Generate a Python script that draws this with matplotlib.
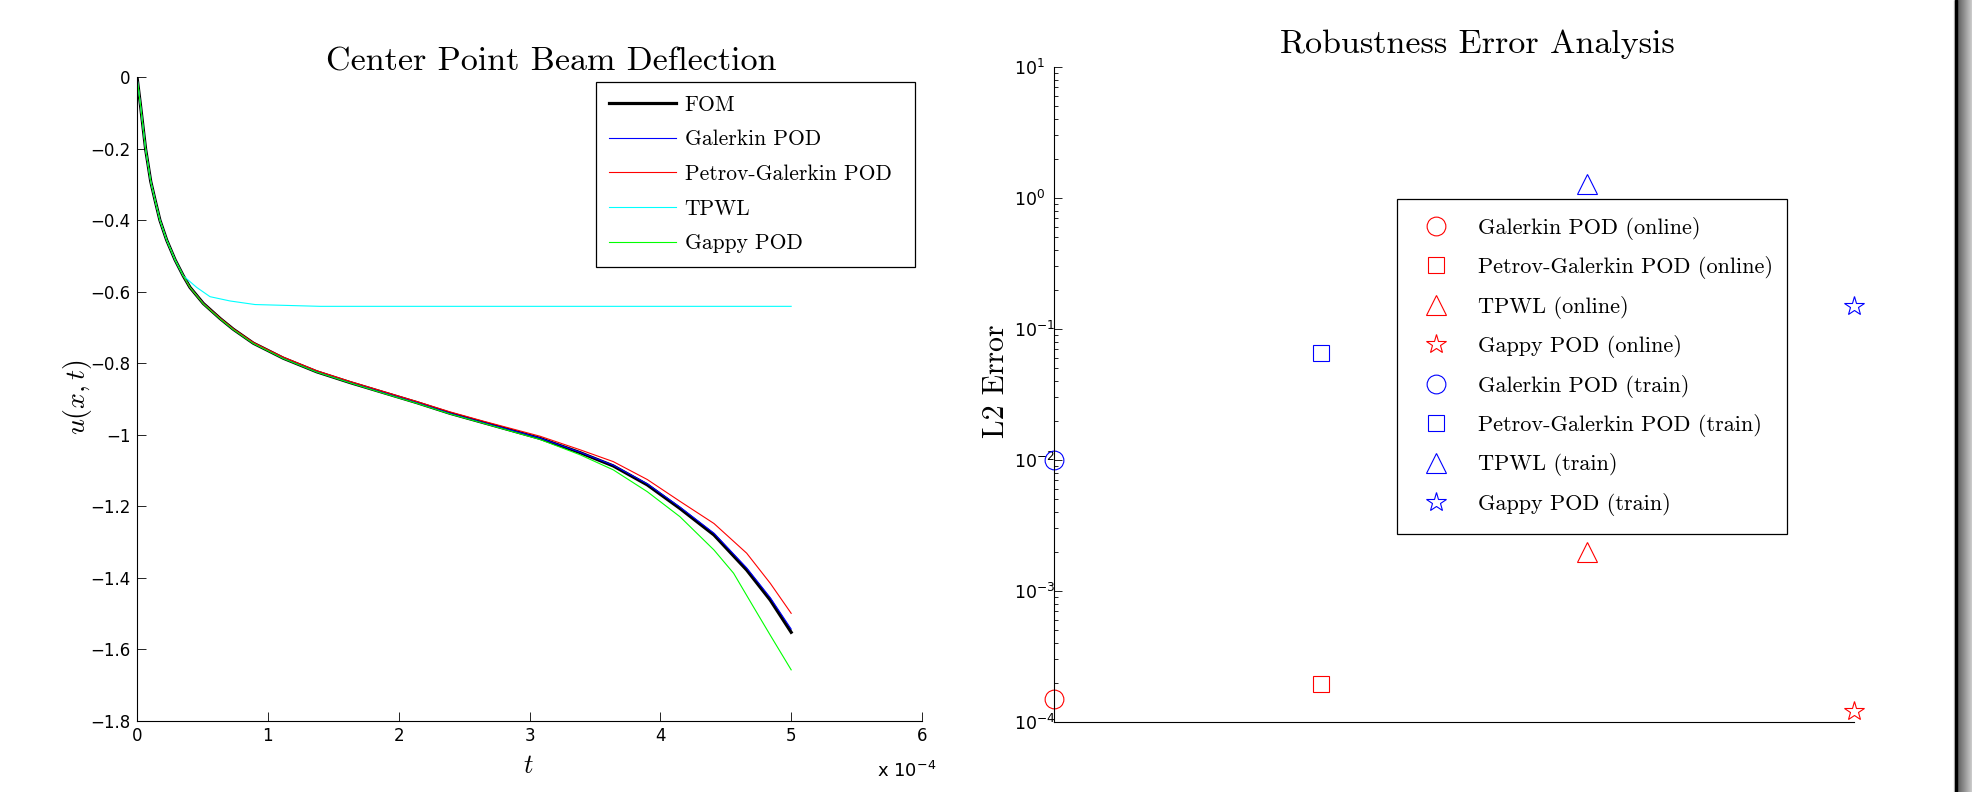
import numpy as np
import matplotlib
matplotlib.use("Agg")
import matplotlib.pyplot as plt
from matplotlib.ticker import FixedLocator, FuncFormatter, LogLocator, NullFormatter
from matplotlib.patches import Rectangle

# ---------------- data ----------------
# time samples (in units of 1e-4 s) and centre-point deflection
t_fom = [0, 0.025, 0.066, 0.105, 0.138, 0.175, 0.227, 0.291, 0.354, 0.405, 0.507,
         0.635, 0.736, 0.889, 1.004, 1.118, 1.374, 1.628, 1.883, 2.138, 2.393, 2.648,
         3.08, 3.387, 3.64, 3.90, 4.15, 4.41, 4.66, 4.84, 5.0]
u_fom = [0, -0.074, -0.202, -0.292, -0.344, -0.400, -0.456, -0.511, -0.556, -0.588,
         -0.633, -0.675, -0.705, -0.744, -0.765, -0.786, -0.824, -0.854, -0.882, -0.910,
         -0.940, -0.966, -1.010, -1.050, -1.087, -1.140, -1.206, -1.280, -1.378, -1.462,
         -1.552]
u_galerkin = [0, -0.074, -0.202, -0.292, -0.344, -0.400, -0.456, -0.511, -0.556, -0.588,
              -0.633, -0.675, -0.705, -0.744, -0.765, -0.786, -0.824, -0.854, -0.882,
              -0.910, -0.940, -0.966, -1.009, -1.049, -1.085, -1.137, -1.202, -1.275,
              -1.372, -1.455, -1.543]
u_petrov = [0, -0.074, -0.202, -0.292, -0.344, -0.400, -0.456, -0.511, -0.556, -0.588,
            -0.633, -0.674, -0.704, -0.742, -0.763, -0.783, -0.821, -0.851, -0.879,
            -0.907, -0.936, -0.962, -1.004, -1.042, -1.075, -1.125, -1.186, -1.248,
            -1.331, -1.415, -1.499]
t_gappy = [0, 0.025, 0.066, 0.105, 0.138, 0.175, 0.227, 0.291, 0.354, 0.405, 0.507,
           0.635, 0.736, 0.889, 1.004, 1.118, 1.374, 1.628, 1.883, 2.138, 2.393, 2.648,
           3.08, 3.387, 3.64, 3.90, 4.15, 4.41, 4.56, 4.71, 4.84, 5.0]
u_gappy = [0, -0.074, -0.202, -0.292, -0.344, -0.400, -0.456, -0.511, -0.556, -0.588,
           -0.634, -0.676, -0.706, -0.745, -0.766, -0.787, -0.825, -0.855, -0.884, -0.912,
           -0.942, -0.968, -1.013, -1.056, -1.098, -1.159, -1.229, -1.322, -1.387, -1.480,
           -1.560, -1.657]
t_tpwl = [0, 0.025, 0.066, 0.105, 0.138, 0.175, 0.227, 0.291, 0.354, 0.456, 0.558,
          0.711, 0.902, 1.40, 2.0, 5.0]
u_tpwl = [0, -0.074, -0.202, -0.292, -0.344, -0.400, -0.456, -0.511, -0.556, -0.588,
          -0.614, -0.626, -0.636, -0.641, -0.641, -0.641]

# robustness study: L2 error per reduced model
methods = ["Galerkin POD", "Petrov-Galerkin POD", "TPWL", "Gappy POD"]
method_pos = [1, 2, 3, 4]
err_online = [1.5e-4, 1.95e-4, 2.0e-3, 1.22e-4]
err_train = [1.0e-2, 6.6e-2, 1.27, 0.15]

# ---------------- styling ----------------
W, H = 1972, 792
plt.rcParams["font.family"] = ["DejaVu Sans"]
plt.rcParams["mathtext.fontset"] = "dejavusans"
SERIF = "cmr10"

fig = plt.figure(figsize=(W / 100, H / 100), dpi=100)
fig.patch.set_facecolor("white")


def fx(px):
    return px / W


def fy(py):
    return 1 - py / H


def minus(s):
    return s.replace("-", "\u2212")


# ---------------- left panel ----------------
ax1 = fig.add_axes([fx(137), fy(721), (922 - 137) / W, (721 - 77) / H])
scale = 1e-4
ax1.plot(np.array(t_fom) * scale, u_fom, color="black", lw=2.3, label="FOM")
ax1.plot(np.array(t_fom) * scale, u_galerkin, color=(0, 0, 1), lw=0.8, label="Galerkin POD")
ax1.plot(np.array(t_fom) * scale, u_petrov, color=(1, 0, 0), lw=0.8, label="Petrov-Galerkin POD")
ax1.plot(np.array(t_tpwl) * scale, u_tpwl, color=(0, 1, 1), lw=0.8, label="TPWL")
ax1.plot(np.array(t_gappy) * scale, u_gappy, color=(0, 1, 0), lw=0.8, label="Gappy POD")

ax1.set_xlim(0, 6e-4)
ax1.set_ylim(-1.8, 0)
ax1.xaxis.set_major_locator(FixedLocator(np.arange(0, 7) * scale))
ax1.xaxis.set_major_formatter(FuncFormatter(lambda v, p: "%g" % (round(v / scale, 6) + 0.0)))
ax1.yaxis.set_major_locator(FixedLocator(np.round(np.arange(-1.8, 0.01, 0.2), 1)))
ax1.yaxis.set_major_formatter(FuncFormatter(lambda v, p: minus("%g" % (round(v, 3) + 0.0))))
for s in ("top", "right"):
    ax1.spines[s].set_visible(False)
for s in ("left", "bottom"):
    ax1.spines[s].set_linewidth(0.8)
ax1.tick_params(direction="in", length=6.5, width=0.6, labelsize=12, pad=4.5)

leg1 = ax1.legend(loc="upper left", bbox_to_anchor=(fx(596), fy(266), (915 - 596) / W, (266 - 82) / H),
                  bbox_transform=fig.transFigure, mode="expand", borderaxespad=0,
                  prop={"family": SERIF, "size": 15.5}, handlelength=3.1, handletextpad=0.4,
                  borderpad=0.62, labelspacing=0.7, fancybox=False, framealpha=1,
                  edgecolor="black")
leg1.get_frame().set_linewidth(0.9)

fig.text(fx(551), fy(70.5), "Center Point Beam Deflection", family=SERIF, fontsize=24.5,
         ha="center", va="baseline")
fig.text(fx(77), fy(397), r"$u(x,t)$", math_fontfamily="cm", fontsize=20, rotation=90,
         ha="center", va="center")
fig.text(fx(528), fy(766), r"$t$", math_fontfamily="cm", fontsize=19, ha="center", va="center")
fig.text(fx(936), fy(777), r"x 10$^{\mathregular{-4}}$", fontsize=13, ha="right", va="baseline")

# ---------------- right panel ----------------
ax2 = fig.add_axes([fx(1054), fy(722), 800 / W, (722 - 67) / H])
markers = ["o", "s", "^", "*"]
msizes = [13.5, 11.5, 15, 15]
for m, ms, xpos, e, name in zip(markers, msizes, method_pos, err_online, methods):
    ax2.plot([xpos], [e], linestyle="none", marker=m, ms=ms, mfc="none", mec=(1, 0, 0),
             mew=0.8, clip_on=False, label=f"{name} (online)")
for m, ms, xpos, e, name in zip(markers, msizes, method_pos, err_train, methods):
    ax2.plot([xpos], [e], linestyle="none", marker=m, ms=ms, mfc="none", mec=(0, 0, 1),
             mew=0.8, clip_on=False, label=f"{name} (train)")

ax2.set_yscale("log")
ax2.set_xlim(1, 4)
ax2.set_ylim(1e-4, 10)
ax2.set_xticks([])
ax2.yaxis.set_major_locator(FixedLocator([1e-4, 1e-3, 1e-2, 1e-1, 1e0, 1e1]))
ax2.yaxis.set_major_formatter(FuncFormatter(
    lambda v, p: r"10$^{\mathregular{%s}}$" % minus("%d" % int(round(np.log10(v))))))
ax2.yaxis.set_minor_locator(LogLocator(base=10, subs=np.arange(2, 10)))
ax2.yaxis.set_minor_formatter(NullFormatter())
for s in ("top", "right"):
    ax2.spines[s].set_visible(False)
for s in ("left", "bottom"):
    ax2.spines[s].set_linewidth(0.8)
ax2.tick_params(axis="y", which="major", direction="in", length=5.5, width=0.6,
                labelsize=12.5, pad=28.8)
ax2.tick_params(axis="y", which="minor", direction="in", length=3, width=0.6)
for lbl in ax2.get_yticklabels():
    lbl.set_horizontalalignment("left")

leg2 = ax2.legend(loc="upper left", bbox_to_anchor=(fx(1397), fy(531), 390 / W, 332 / H),
                  bbox_transform=fig.transFigure, mode="expand", borderaxespad=0,
                  prop={"family": SERIF, "size": 16}, handlelength=1.9, handletextpad=0.95,
                  borderpad=0.8, labelspacing=0.74, fancybox=False, framealpha=1,
                  edgecolor="black")
leg2.get_frame().set_linewidth(0.9)

fig.text(fx(1477), fy(53), "Robustness Error Analysis", family=SERIF, fontsize=24.5,
         ha="center", va="baseline")
fig.text(fx(996), fy(381), "L2 Error", family=SERIF, fontsize=21.5, rotation=90,
         ha="center", va="center")

# ---------------- page edge ----------------
fig.patches.append(Rectangle((fx(1954), 0), 1 / W, 1, transform=fig.transFigure,
                             color="#d0d0d0", zorder=5))
fig.patches.append(Rectangle((fx(1955), 0), 2.2 / W, 1, transform=fig.transFigure,
                             color="black", zorder=5))
edge = fig.add_axes([fx(1957), 0, 15 / W, 1])
edge.imshow(np.linspace(0.35, 0.8, 64)[None, :], cmap="gray", vmin=0, vmax=1,
            aspect="auto", extent=(0, 1, 0, 1))
edge.set_axis_off()

fig.savefig("out.png", dpi=100, facecolor="white")
